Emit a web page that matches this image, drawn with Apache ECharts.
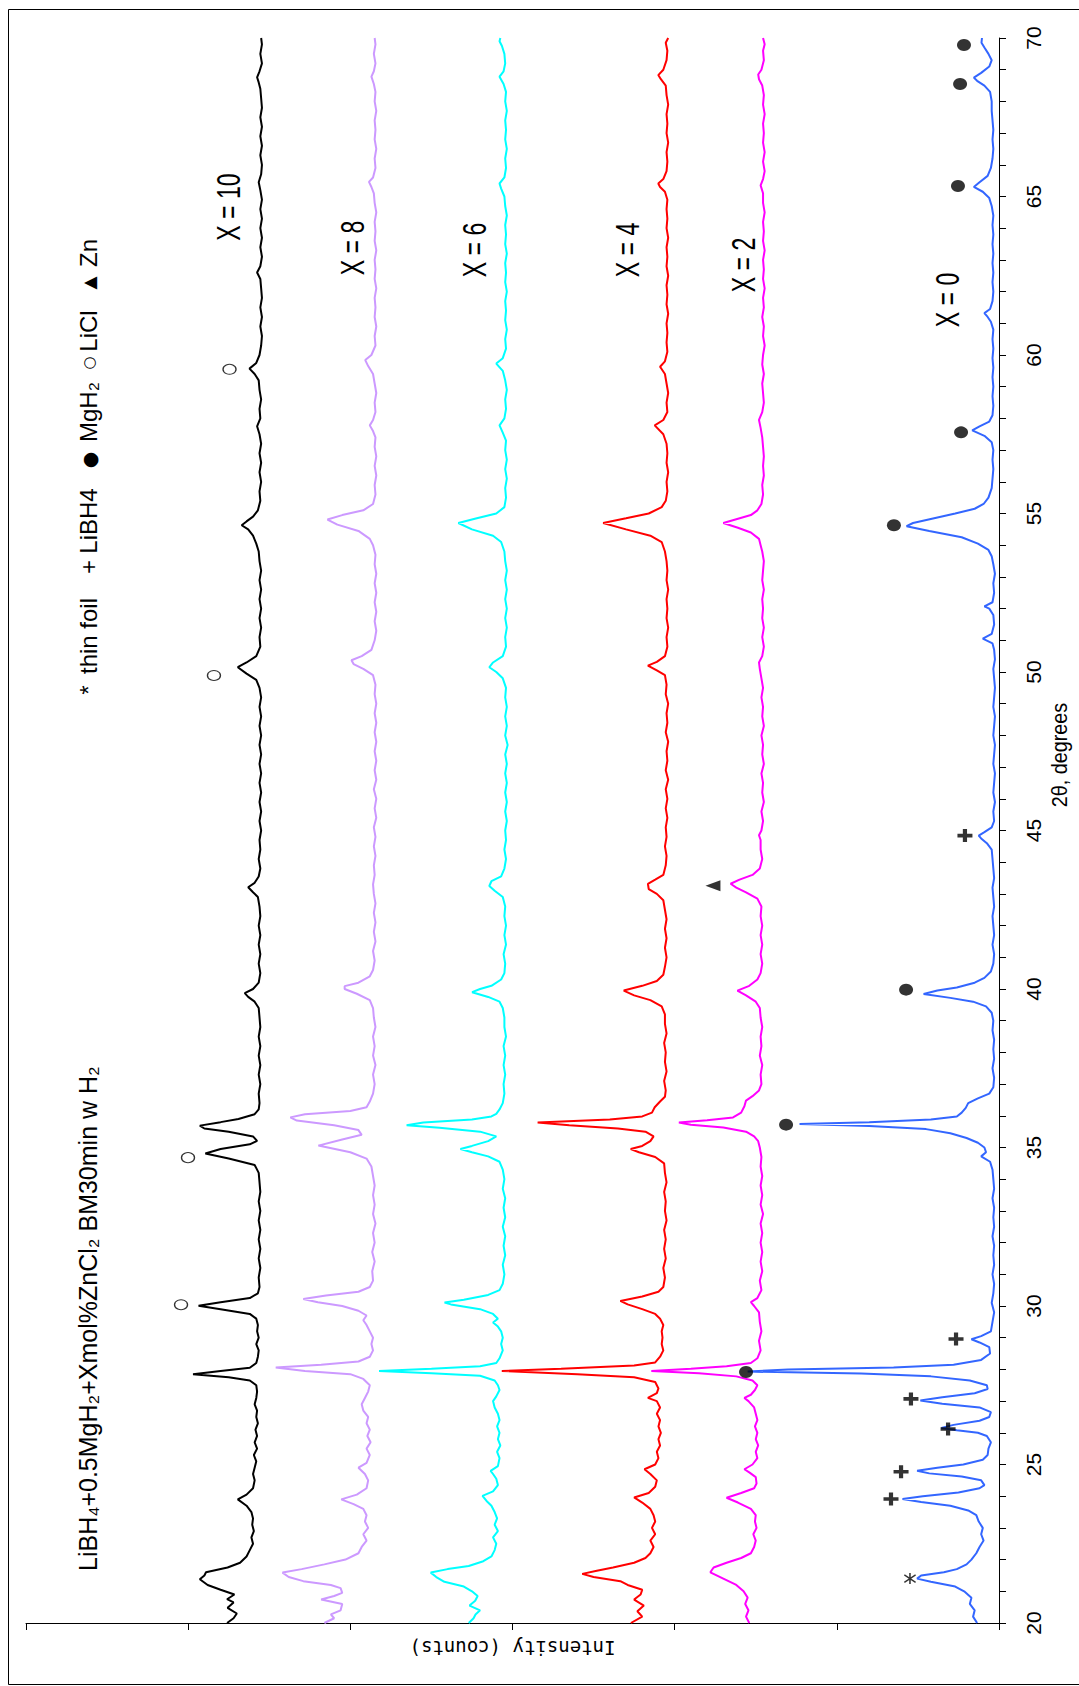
<!DOCTYPE html>
<html><head><meta charset="utf-8">
<script src="https://cdn.jsdelivr.net/npm/echarts@6/dist/echarts.min.js"></script>
<style>html,body{margin:0;padding:0;background:#fff}#c{width:1079px;height:1686px}</style>
</head><body><div id="c"></div>
<script>
// ---- data: [2theta (deg), intensity (counts, stacked offsets as plotted)] ----
const seriesNames = ['X = 0', 'X = 2', 'X = 4', 'X = 6', 'X = 8', 'X = 10'];
const thetaTicks = [20, 25, 30, 35, 40, 45, 50, 55, 60, 65, 70];

const s0 = [[20.0,135],[20.2,160],[20.4,150],[20.6,180],[20.8,170],[21.0,215],[21.15,270],[21.3,420],[21.4,505],[21.5,480],[21.6,340],[21.7,260],[21.85,200],[22.0,170],[22.2,140],[22.4,120],[22.6,95],[22.8,110],[23.0,100],[23.2,125],[23.4,140],[23.55,190],[23.7,300],[23.82,480],[23.91,595],[24.0,470],[24.12,250],[24.25,120],[24.35,90],[24.5,110],[24.62,230],[24.72,430],[24.8,505],[24.9,380],[25.0,220],[25.15,100],[25.3,70],[25.5,65],[25.7,50],[25.9,75],[26.0,130],[26.08,260],[26.15,355],[26.25,280],[26.38,120],[26.5,60],[26.65,50],[26.8,120],[26.92,350],[27.02,485],[27.12,350],[27.25,150],[27.38,70],[27.5,75],[27.65,180],[27.78,420],[27.87,850],[27.93,1550],[28.0,1300],[28.06,650],[28.15,280],[28.3,110],[28.5,55],[28.7,60],[28.85,120],[28.95,170],[29.05,110],[29.2,50],[29.5,40],[29.8,30],[30.1,45],[30.4,35],[30.7,30],[31.0,40],[31.3,30],[31.6,35],[31.9,30],[32.2,40],[32.5,30],[32.8,35],[33.1,30],[33.4,40],[33.7,30],[34.0,35],[34.3,40],[34.55,55],[34.72,110],[34.85,80],[35.0,90],[35.15,130],[35.3,200],[35.45,300],[35.58,450],[35.68,800],[35.74,1230],[35.8,800],[35.88,420],[35.98,260],[36.1,230],[36.25,205],[36.4,190],[36.55,130],[36.7,60],[36.9,35],[37.2,30],[37.5,40],[37.8,30],[38.1,35],[38.4,30],[38.7,40],[39.0,35],[39.25,45],[39.45,80],[39.6,160],[39.72,300],[39.84,465],[39.95,380],[40.05,260],[40.2,150],[40.35,90],[40.55,50],[40.8,35],[41.1,30],[41.4,40],[41.7,30],[42.0,35],[42.3,40],[42.6,30],[42.9,35],[43.2,40],[43.5,30],[43.8,35],[44.1,40],[44.4,45],[44.6,75],[44.75,110],[44.84,125],[44.95,90],[45.1,45],[45.3,30],[45.6,35],[45.9,25],[46.2,35],[46.5,30],[46.8,25],[47.1,35],[47.4,30],[47.7,25],[48.0,35],[48.3,30],[48.6,25],[48.9,35],[49.2,30],[49.5,25],[49.8,30],[50.1,35],[50.4,25],[50.7,30],[50.9,40],[51.05,100],[51.2,45],[51.5,30],[51.8,35],[52.0,60],[52.07,90],[52.2,40],[52.5,30],[52.8,35],[53.1,25],[53.4,35],[53.65,45],[53.85,65],[54.05,130],[54.25,230],[54.45,430],[54.6,570],[54.7,530],[54.85,400],[55.0,270],[55.15,150],[55.3,95],[55.5,65],[55.8,45],[56.1,40],[56.4,35],[56.7,40],[57.0,35],[57.25,45],[57.45,90],[57.62,165],[57.75,120],[57.9,60],[58.1,40],[58.4,35],[58.7,40],[59.0,35],[59.3,40],[59.6,35],[59.9,40],[60.2,35],[60.5,40],[60.8,35],[61.05,50],[61.2,70],[61.32,90],[61.45,55],[61.7,40],[62.0,35],[62.3,40],[62.6,35],[62.9,40],[63.2,35],[63.5,40],[63.8,35],[64.1,40],[64.4,35],[64.7,45],[64.95,60],[65.15,100],[65.3,155],[65.45,120],[65.65,70],[65.9,50],[66.2,40],[66.5,35],[66.8,40],[67.1,35],[67.4,40],[67.7,45],[68.0,45],[68.3,55],[68.5,90],[68.65,135],[68.75,155],[68.9,110],[69.1,60],[69.3,45],[69.5,65],[69.7,90],[69.85,108],[70.0,105]];

const s2 = [[20.0,1540],[20.2,1560],[20.4,1545],[20.6,1565],[20.8,1550],[21.0,1575],[21.2,1620],[21.4,1700],[21.6,1780],[21.75,1760],[21.9,1680],[22.05,1590],[22.2,1530],[22.4,1510],[22.6,1500],[22.8,1515],[23.0,1495],[23.2,1505],[23.4,1500],[23.6,1530],[23.8,1610],[23.95,1680],[24.1,1590],[24.25,1510],[24.4,1495],[24.6,1500],[24.75,1540],[24.85,1570],[25.0,1520],[25.2,1490],[25.4,1500],[25.6,1485],[25.8,1500],[26.0,1490],[26.2,1505],[26.4,1490],[26.6,1500],[26.8,1510],[27.0,1545],[27.1,1570],[27.2,1530],[27.35,1505],[27.5,1490],[27.65,1520],[27.78,1620],[27.88,1850],[27.95,2144],[28.02,1900],[28.1,1680],[28.2,1530],[28.35,1490],[28.6,1470],[28.9,1480],[29.2,1465],[29.5,1475],[29.8,1480],[30.0,1510],[30.12,1530],[30.25,1490],[30.5,1465],[30.8,1475],[31.1,1460],[31.4,1470],[31.7,1460],[32.0,1470],[32.3,1460],[32.6,1470],[32.9,1455],[33.2,1470],[33.5,1460],[33.8,1470],[34.1,1460],[34.4,1470],[34.7,1465],[35.0,1475],[35.2,1485],[35.35,1510],[35.5,1560],[35.63,1700],[35.72,1900],[35.79,1974],[35.86,1800],[35.95,1640],[36.1,1590],[36.3,1570],[36.48,1560],[36.62,1520],[36.8,1480],[37.0,1465],[37.3,1470],[37.6,1460],[37.9,1475],[38.2,1465],[38.5,1470],[38.8,1460],[39.1,1470],[39.4,1475],[39.6,1500],[39.8,1560],[39.95,1613],[40.1,1540],[40.3,1490],[40.5,1470],[40.8,1460],[41.1,1470],[41.4,1460],[41.7,1470],[42.0,1460],[42.3,1470],[42.6,1465],[42.85,1490],[43.05,1560],[43.2,1620],[43.32,1655],[43.45,1600],[43.6,1520],[43.8,1475],[44.1,1460],[44.4,1470],[44.7,1470],[44.85,1480],[45.0,1465],[45.3,1455],[45.6,1465],[45.9,1450],[46.2,1460],[46.5,1455],[46.8,1465],[47.1,1450],[47.4,1460],[47.7,1455],[48.0,1465],[48.3,1450],[48.6,1460],[48.9,1455],[49.2,1465],[49.5,1455],[49.8,1465],[50.1,1475],[50.3,1480],[50.5,1460],[50.8,1450],[51.1,1460],[51.4,1450],[51.7,1460],[52.0,1455],[52.3,1460],[52.6,1450],[52.9,1460],[53.2,1455],[53.5,1450],[53.8,1460],[54.0,1470],[54.2,1480],[54.4,1530],[54.55,1610],[54.7,1700],[54.82,1620],[54.95,1530],[55.1,1490],[55.3,1465],[55.6,1455],[55.9,1460],[56.2,1450],[56.5,1455],[56.8,1450],[57.1,1455],[57.4,1460],[57.7,1470],[57.95,1480],[58.2,1460],[58.5,1450],[58.8,1455],[59.1,1460],[59.4,1450],[59.7,1460],[60.0,1455],[60.3,1445],[60.6,1455],[60.9,1450],[61.2,1460],[61.5,1450],[61.8,1455],[62.1,1445],[62.4,1455],[62.7,1450],[63.0,1455],[63.3,1445],[63.6,1455],[63.9,1450],[64.2,1455],[64.5,1445],[64.8,1455],[65.1,1455],[65.35,1470],[65.55,1455],[65.8,1445],[66.1,1455],[66.4,1445],[66.7,1455],[67.0,1450],[67.3,1455],[67.6,1445],[67.9,1455],[68.2,1450],[68.5,1460],[68.7,1480],[68.85,1485],[69.0,1465],[69.3,1450],[69.6,1455],[69.8,1445],[70.0,1455]];

const s4 = [[20.0,2270],[20.2,2200],[20.37,2230],[20.55,2190],[20.74,2250],[20.9,2210],[21.05,2200],[21.2,2290],[21.32,2335],[21.45,2500],[21.55,2570],[21.65,2480],[21.75,2380],[21.9,2250],[22.05,2180],[22.2,2150],[22.4,2130],[22.6,2150],[22.8,2120],[23.0,2140],[23.2,2120],[23.4,2130],[23.6,2150],[23.8,2200],[23.96,2250],[24.1,2160],[24.3,2120],[24.5,2110],[24.7,2150],[24.85,2186],[25.0,2120],[25.2,2100],[25.4,2110],[25.6,2090],[25.8,2100],[26.0,2085],[26.2,2100],[26.4,2090],[26.6,2110],[26.8,2090],[27.0,2110],[27.1,2165],[27.25,2110],[27.4,2100],[27.6,2120],[27.75,2250],[27.85,2600],[27.95,3066],[28.02,2700],[28.12,2250],[28.22,2120],[28.4,2090],[28.6,2070],[28.8,2080],[29.0,2075],[29.2,2080],[29.4,2070],[29.6,2090],[29.75,2120],[29.9,2200],[30.05,2290],[30.16,2335],[30.3,2200],[30.45,2100],[30.6,2070],[30.9,2060],[31.2,2070],[31.5,2055],[31.8,2065],[32.1,2055],[32.4,2065],[32.7,2050],[33.0,2060],[33.3,2055],[33.6,2065],[33.9,2050],[34.2,2060],[34.5,2065],[34.7,2120],[34.85,2220],[34.95,2271],[35.05,2200],[35.2,2150],[35.35,2130],[35.5,2180],[35.6,2350],[35.7,2650],[35.79,2845],[35.88,2400],[35.98,2200],[36.1,2140],[36.27,2123],[36.45,2090],[36.6,2060],[36.8,2055],[37.1,2065],[37.4,2050],[37.7,2060],[38.0,2055],[38.3,2065],[38.6,2050],[38.9,2060],[39.2,2060],[39.45,2080],[39.65,2150],[39.8,2250],[39.95,2314],[40.1,2200],[40.25,2110],[40.45,2070],[40.7,2060],[41.0,2050],[41.3,2060],[41.6,2050],[41.9,2060],[42.2,2050],[42.5,2060],[42.8,2070],[43.0,2110],[43.15,2160],[43.32,2165],[43.45,2120],[43.6,2070],[43.9,2055],[44.2,2050],[44.5,2060],[44.8,2050],[45.1,2055],[45.4,2045],[45.7,2055],[46.0,2045],[46.3,2055],[46.6,2040],[46.9,2055],[47.2,2045],[47.5,2050],[47.8,2040],[48.1,2055],[48.4,2045],[48.7,2050],[49.0,2040],[49.3,2055],[49.6,2050],[49.9,2060],[50.05,2110],[50.2,2165],[50.32,2110],[50.5,2060],[50.8,2045],[51.1,2050],[51.4,2040],[51.7,2050],[52.0,2045],[52.3,2050],[52.6,2040],[52.9,2050],[53.2,2045],[53.5,2050],[53.8,2060],[54.1,2080],[54.3,2150],[54.5,2300],[54.7,2441],[54.85,2300],[55.0,2160],[55.2,2080],[55.4,2055],[55.7,2045],[56.0,2050],[56.3,2040],[56.6,2050],[56.9,2045],[57.2,2050],[57.5,2070],[57.78,2123],[57.95,2070],[58.2,2045],[58.5,2050],[58.8,2040],[59.1,2050],[59.4,2060],[59.63,2090],[59.8,2060],[60.1,2045],[60.4,2050],[60.7,2045],[61.0,2050],[61.3,2040],[61.6,2050],[61.9,2045],[62.2,2050],[62.5,2040],[62.8,2050],[63.1,2045],[63.4,2050],[63.7,2040],[64.0,2050],[64.3,2045],[64.6,2050],[64.9,2045],[65.15,2060],[65.3,2090],[65.41,2101],[65.55,2070],[65.8,2050],[66.1,2045],[66.4,2050],[66.7,2040],[67.0,2050],[67.3,2045],[67.6,2050],[67.9,2040],[68.2,2050],[68.5,2055],[68.7,2085],[68.83,2101],[69.0,2070],[69.3,2050],[69.6,2045],[69.85,2055],[70.0,2040]];

const s6 = [[20.0,3270],[20.15,3240],[20.27,3228],[20.4,3200],[20.55,3265],[20.7,3230],[20.85,3215],[21.0,3250],[21.15,3300],[21.3,3420],[21.45,3470],[21.59,3504],[21.7,3400],[21.8,3270],[21.95,3180],[22.1,3130],[22.3,3110],[22.5,3100],[22.7,3120],[22.9,3090],[23.1,3110],[23.3,3095],[23.5,3110],[23.7,3130],[23.85,3160],[24.01,3185],[24.15,3120],[24.35,3090],[24.55,3100],[24.7,3120],[24.8,3135],[24.95,3090],[25.2,3080],[25.4,3095],[25.6,3075],[25.8,3090],[26.0,3080],[26.2,3095],[26.4,3080],[26.6,3090],[26.8,3110],[27.0,3120],[27.15,3100],[27.35,3080],[27.5,3090],[27.65,3110],[27.8,3200],[27.88,3500],[27.95,3823],[28.02,3500],[28.1,3200],[28.2,3100],[28.35,3080],[28.6,3060],[28.8,3070],[29.0,3060],[29.2,3070],[29.35,3090],[29.48,3120],[29.6,3090],[29.75,3120],[29.9,3200],[30.05,3380],[30.11,3419],[30.2,3300],[30.35,3150],[30.5,3080],[30.7,3060],[31.0,3050],[31.3,3060],[31.6,3045],[31.9,3055],[32.2,3045],[32.5,3060],[32.8,3045],[33.1,3055],[33.4,3045],[33.7,3060],[34.0,3050],[34.3,3060],[34.55,3080],[34.72,3150],[34.85,3250],[34.95,3321],[35.05,3250],[35.2,3150],[35.35,3100],[35.5,3200],[35.62,3450],[35.7,3653],[35.79,3550],[35.88,3250],[35.98,3130],[36.06,3100],[36.2,3080],[36.4,3060],[36.7,3050],[37.0,3055],[37.3,3045],[37.6,3055],[37.9,3045],[38.2,3055],[38.5,3040],[38.8,3050],[39.1,3050],[39.4,3060],[39.6,3080],[39.75,3150],[39.9,3249],[40.0,3200],[40.1,3130],[40.3,3070],[40.5,3050],[40.8,3045],[41.1,3055],[41.4,3040],[41.7,3050],[42.0,3040],[42.3,3050],[42.6,3045],[42.9,3060],[43.1,3110],[43.25,3143],[43.4,3130],[43.55,3070],[43.8,3050],[44.1,3040],[44.4,3050],[44.7,3040],[45.0,3045],[45.3,3035],[45.6,3045],[45.9,3035],[46.2,3045],[46.5,3035],[46.8,3045],[47.1,3035],[47.4,3045],[47.7,3030],[48.0,3045],[48.3,3035],[48.6,3045],[48.9,3035],[49.2,3045],[49.5,3040],[49.8,3060],[50.0,3100],[50.15,3143],[50.3,3120],[50.5,3060],[50.8,3040],[51.1,3045],[51.4,3035],[51.7,3045],[52.0,3035],[52.3,3045],[52.6,3035],[52.9,3045],[53.2,3035],[53.5,3045],[53.8,3050],[54.1,3070],[54.3,3120],[54.5,3250],[54.7,3334],[54.85,3220],[55.0,3100],[55.2,3050],[55.5,3040],[55.8,3045],[56.1,3035],[56.4,3045],[56.7,3035],[57.0,3045],[57.3,3040],[57.55,3060],[57.78,3080],[58.0,3050],[58.3,3040],[58.6,3045],[58.9,3035],[59.2,3045],[59.5,3060],[59.73,3100],[59.9,3060],[60.2,3040],[60.5,3045],[60.8,3035],[61.1,3045],[61.4,3040],[61.7,3045],[62.0,3035],[62.3,3045],[62.6,3040],[62.9,3045],[63.2,3035],[63.5,3045],[63.8,3040],[64.1,3045],[64.4,3035],[64.7,3045],[65.0,3050],[65.25,3070],[65.41,3080],[65.6,3050],[65.9,3040],[66.2,3045],[66.5,3035],[66.8,3045],[67.1,3040],[67.4,3045],[67.7,3035],[68.0,3045],[68.3,3040],[68.55,3055],[68.78,3080],[68.95,3055],[69.2,3045],[69.5,3050],[69.75,3065],[69.9,3080],[70.0,3075]];

const s8 = [[20.0,4160],[20.15,4100],[20.27,4120],[20.4,4060],[20.6,4050],[20.74,4180],[20.85,4100],[20.95,4050],[21.1,4060],[21.2,4120],[21.32,4290],[21.45,4380],[21.59,4418],[21.7,4300],[21.85,4160],[22.0,4030],[22.2,3950],[22.4,3930],[22.6,3900],[22.8,3920],[23.0,3890],[23.2,3910],[23.4,3900],[23.6,3920],[23.75,3980],[23.9,4056],[24.05,3960],[24.25,3900],[24.5,3890],[24.7,3910],[24.9,3950],[25.05,3900],[25.3,3880],[25.5,3900],[25.7,3875],[25.9,3895],[26.1,3880],[26.3,3900],[26.5,3890],[26.7,3920],[26.9,3930],[27.1,3910],[27.3,3890],[27.5,3880],[27.7,3920],[27.85,4000],[27.95,4280],[28.06,4460],[28.15,4180],[28.25,3950],[28.4,3880],[28.6,3860],[28.8,3870],[29.0,3860],[29.2,3880],[29.4,3900],[29.55,3920],[29.7,3900],[29.85,3950],[30.0,4050],[30.12,4200],[30.22,4290],[30.33,4150],[30.45,3950],[30.6,3880],[30.8,3860],[31.1,3865],[31.4,3850],[31.7,3865],[32.0,3850],[32.3,3860],[32.6,3845],[32.9,3860],[33.2,3850],[33.5,3860],[33.8,3850],[34.1,3860],[34.4,3870],[34.65,3900],[34.85,4000],[35.06,4197],[35.25,4050],[35.4,3930],[35.55,3950],[35.7,4100],[35.85,4330],[35.95,4370],[36.05,4280],[36.15,4000],[36.27,3900],[36.45,3880],[36.7,3860],[37.0,3850],[37.3,3860],[37.6,3845],[37.9,3860],[38.2,3850],[38.5,3860],[38.8,3845],[39.1,3855],[39.4,3860],[39.65,3880],[39.85,3960],[40.0,4035],[40.09,4035],[40.2,3950],[40.4,3880],[40.6,3860],[40.9,3850],[41.2,3860],[41.5,3845],[41.8,3855],[42.1,3845],[42.4,3855],[42.7,3845],[43.0,3855],[43.3,3860],[43.6,3850],[43.9,3855],[44.2,3845],[44.5,3855],[44.8,3845],[45.1,3855],[45.4,3840],[45.7,3850],[46.0,3840],[46.3,3855],[46.6,3840],[46.9,3850],[47.2,3840],[47.5,3850],[47.8,3840],[48.1,3850],[48.4,3840],[48.7,3850],[49.0,3840],[49.3,3850],[49.6,3845],[49.9,3860],[50.1,3920],[50.25,3980],[50.37,3993],[50.5,3930],[50.7,3870],[51.0,3850],[51.3,3840],[51.6,3850],[51.9,3840],[52.2,3850],[52.5,3840],[52.8,3850],[53.1,3840],[53.4,3850],[53.7,3845],[54.0,3860],[54.2,3880],[54.45,3950],[54.65,4080],[54.81,4141],[54.95,4050],[55.1,3920],[55.3,3860],[55.6,3845],[55.9,3850],[56.2,3840],[56.5,3850],[56.8,3840],[57.1,3850],[57.4,3845],[57.6,3860],[57.78,3880],[57.95,3860],[58.2,3845],[58.5,3850],[58.8,3840],[59.1,3850],[59.4,3860],[59.65,3890],[59.84,3908],[60.0,3870],[60.3,3845],[60.6,3850],[60.9,3840],[61.2,3850],[61.5,3845],[61.8,3850],[62.1,3840],[62.4,3850],[62.7,3845],[63.0,3850],[63.3,3840],[63.6,3850],[63.9,3845],[64.2,3850],[64.5,3840],[64.8,3850],[65.1,3855],[65.3,3870],[65.46,3885],[65.6,3860],[65.9,3845],[66.2,3850],[66.5,3840],[66.8,3850],[67.1,3845],[67.4,3850],[67.7,3840],[68.0,3850],[68.3,3845],[68.55,3855],[68.78,3870],[68.95,3855],[69.2,3845],[69.5,3855],[69.8,3845],[70.0,3850]];

const s10 = [[20.0,4760],[20.15,4720],[20.3,4700],[20.48,4757],[20.65,4720],[20.75,4760],[20.9,4715],[21.05,4800],[21.2,4880],[21.38,4928],[21.5,4900],[21.6,4890],[21.75,4757],[21.9,4680],[22.1,4640],[22.3,4620],[22.5,4600],[22.7,4610],[22.9,4595],[23.1,4605],[23.3,4600],[23.5,4610],[23.7,4640],[23.9,4694],[24.05,4640],[24.25,4600],[24.5,4590],[24.7,4600],[24.9,4590],[25.1,4580],[25.3,4595],[25.5,4575],[25.7,4590],[25.9,4575],[26.1,4585],[26.3,4570],[26.5,4580],[26.7,4575],[26.9,4590],[27.1,4580],[27.3,4575],[27.5,4580],[27.65,4620],[27.75,4750],[27.85,4970],[27.95,4800],[28.05,4620],[28.2,4580],[28.4,4570],[28.6,4565],[28.8,4580],[29.0,4565],[29.2,4575],[29.4,4570],[29.6,4580],[29.75,4620],[29.9,4800],[30.01,4936],[30.12,4800],[30.25,4620],[30.4,4570],[30.6,4560],[30.9,4565],[31.2,4555],[31.5,4565],[31.8,4555],[32.1,4565],[32.4,4555],[32.7,4565],[33.0,4555],[33.3,4565],[33.6,4555],[33.9,4560],[34.2,4565],[34.45,4590],[34.65,4750],[34.81,4894],[34.95,4800],[35.1,4620],[35.21,4575],[35.35,4600],[35.5,4750],[35.6,4900],[35.69,4928],[35.8,4800],[35.9,4690],[36.05,4590],[36.2,4565],[36.4,4560],[36.7,4565],[37.0,4555],[37.3,4565],[37.6,4555],[37.9,4565],[38.2,4555],[38.5,4565],[38.8,4555],[39.1,4560],[39.4,4565],[39.6,4590],[39.75,4630],[39.87,4651],[40.0,4600],[40.2,4565],[40.5,4555],[40.8,4565],[41.1,4555],[41.4,4565],[41.7,4555],[42.0,4565],[42.3,4555],[42.6,4560],[42.9,4570],[43.05,4600],[43.21,4630],[43.35,4590],[43.55,4565],[43.8,4555],[44.1,4565],[44.4,4555],[44.7,4560],[45.0,4550],[45.3,4560],[45.6,4550],[45.9,4560],[46.2,4550],[46.5,4560],[46.8,4550],[47.1,4560],[47.4,4550],[47.7,4560],[48.0,4550],[48.3,4560],[48.6,4550],[48.9,4560],[49.2,4550],[49.5,4560],[49.75,4580],[49.95,4640],[50.15,4694],[50.3,4640],[50.5,4580],[50.8,4555],[51.1,4560],[51.4,4550],[51.7,4560],[52.0,4550],[52.3,4560],[52.6,4550],[52.9,4560],[53.2,4550],[53.5,4560],[53.8,4565],[54.05,4580],[54.3,4600],[54.5,4630],[54.63,4670],[54.75,4640],[54.9,4600],[55.1,4570],[55.4,4555],[55.7,4560],[56.0,4550],[56.3,4560],[56.6,4550],[56.9,4560],[57.2,4550],[57.5,4560],[57.75,4575],[58.0,4555],[58.3,4560],[58.6,4550],[58.9,4560],[59.2,4565],[59.4,4590],[59.57,4622],[59.75,4580],[60.0,4560],[60.3,4550],[60.6,4545],[60.9,4555],[61.2,4545],[61.5,4555],[61.8,4545],[62.1,4550],[62.4,4555],[62.6,4575],[62.8,4555],[63.1,4545],[63.4,4555],[63.7,4545],[64.0,4555],[64.3,4545],[64.6,4555],[64.9,4545],[65.2,4555],[65.45,4565],[65.7,4550],[66.0,4545],[66.3,4555],[66.6,4545],[66.9,4555],[67.2,4545],[67.5,4555],[67.8,4545],[68.1,4550],[68.4,4555],[68.6,4565],[68.76,4575],[68.95,4560],[69.2,4545],[69.5,4555],[69.8,4545],[70.0,4550]];

// phase markers: [2theta, intensity]
const mgh2Marks = [[69.78,216],[68.55,240],[65.33,253],[57.56,234],[54.63,648],[39.98,573],[35.72,1313],[27.92,1560]];
const liclMarks = [[59.55,4745],[49.89,4841],[34.68,5001],[30.04,5044]];
const znMarks = [[43.26,1764]];
const libh4Marks = [[44.84,210],[28.96,265],[27.07,543],[26.12,314],[24.77,604],[23.91,666]];
const foilMarks = [[21.4,549]];

// ---- chart ----
const colors = ['#3366ff', '#ff00ff', '#ff0000', '#00ffff', '#cc99ff', '#000000'];
const traces = [s0, s2, s4, s6, s8, s10];
const FONT = "'Liberation Sans', Arial, Helvetica, sans-serif";
const NARROW = "'Liberation Sans Narrow', 'Arial Narrow', 'Liberation Sans', Arial, sans-serif";
const flip = arr => arr.map(p => [p[1], p[0]]);

const series = traces.map((d, i) => ({
  name: seriesNames[i], type: 'line', data: flip(d), showSymbol: false, symbol: 'none',
  lineStyle: { color: colors[i], width: 2 }, itemStyle: { color: colors[i] },
  silent: true, z: 2, animation: false
}));
const plusPath = 'path://M3.6,0H6.4V3.6H10V6.4H6.4V10H3.6V6.4H0V3.6H3.6Z';
const starPath = 'path://M4.4,0H5.6V10H4.4Z M0.3,2.1L0.9,1.1L9.7,7.9L9.1,8.9Z M0.3,7.9L9.1,1.1L9.7,2.1L0.9,8.9Z';
series.push(
  { type: 'scatter', data: flip(mgh2Marks), symbol: 'circle', symbolSize: [14, 12], itemStyle: { color: '#000' }, z: 5, silent: true },
  { type: 'scatter', data: flip(liclMarks), symbol: 'circle', symbolSize: [13, 10], itemStyle: { color: '#fff', borderColor: '#000', borderWidth: 1.2 }, z: 5, silent: true },
  { type: 'scatter', data: flip(znMarks), symbol: 'triangle', symbolRotate: 90, symbolSize: [11, 15], itemStyle: { color: '#000' }, z: 5, silent: true },
  { type: 'scatter', data: flip(libh4Marks), symbol: plusPath, symbolSize: [15, 13], itemStyle: { color: '#000' }, z: 5, silent: true },
  { type: 'scatter', data: flip(foilMarks), symbol: starPath, symbolSize: [12, 11], itemStyle: { color: '#000' }, z: 5, silent: true }
);

function vtext(x, y, text, size, align, scale, family) {
  return { type: 'text', x: x, y: y, rotation: Math.PI / 2, scaleX: scale || 1, silent: true, z: 10,
    style: { text: text, fill: '#000', font: size + 'px ' + (family || FONT), align: align, verticalAlign: 'middle',
             textAlign: align, textVerticalAlign: 'middle' } };
}

const labelPos = [[947, 300], [743, 265], [627, 250], [474, 250], [352, 248], [228, 207]];
const graphics = [
  { type: 'rect', shape: { x: 8.5, y: 9.5, width: 1100, height: 1675 }, style: { fill: 'none', stroke: '#000', lineWidth: 1 }, silent: true, z: 0 },
  vtext(88, 1571, 'LiBH₄+0.5MgH₂+Xmol%ZnCl₂ BM30min w H₂', 25, 'left', 1),
  vtext(88, 690, '*', 24, 'center'),
  vtext(88, 636, 'thin foil', 24, 'center'),
  vtext(88, 567, '+', 24, 'center'),
  vtext(88, 521, 'LiBH4', 24, 'center'),
  vtext(89, 460, '●', 19, 'center', 1, "'DejaVu Sans', sans-serif"),
  vtext(88, 412, 'MgH₂', 24, 'center'),
  vtext(89, 363, '○', 15, 'center', 1, "'DejaVu Sans', sans-serif"),
  vtext(88, 331, 'LiCl', 24, 'center'),
  vtext(89, 283, '▲', 17, 'center', 1, "'DejaVu Sans', sans-serif"),
  vtext(88, 253, 'Zn', 24, 'center'),
  vtext(1059, 755, '2θ, degrees', 22, 'center', 0.9)
];
labelPos.forEach((p, i) => graphics.push(vtext(p[0], p[1], seriesNames[i], 33, 'center', 0.7)));

const option = {
  animation: false,
  backgroundColor: '#ffffff',
  grid: { left: 26, right: 80, top: 38, bottom: 63, outerBoundsMode: 'none', containLabel: false },
  xAxis: {
    type: 'value', min: 0, max: 6000, interval: 1000, inverse: true, position: 'bottom',
    name: 'Intensity (counts)', nameLocation: 'middle', nameRotate: 180, nameGap: 15,
    nameTextStyle: { fontFamily: "'DejaVu Sans Mono', 'Liberation Mono', monospace", fontSize: 19, color: '#000' },
    axisLine: { onZero: false, lineStyle: { color: '#000', width: 1 } },
    axisTick: { show: true, inside: false, length: 7, lineStyle: { color: '#000' } },
    axisLabel: { show: false }, splitLine: { show: false }
  },
  yAxis: {
    type: 'value', min: 20, max: 70, interval: 5, position: 'right',
    axisLine: { onZero: false, lineStyle: { color: '#000', width: 1 } },
    axisTick: { show: true, inside: false, length: 7, lineStyle: { color: '#000' } },
    minorTick: { show: true, splitNumber: 5, length: 7, lineStyle: { color: '#000' } },
    axisLabel: { rotate: 90, margin: 24, fontSize: 21, fontFamily: NARROW, color: '#000',
      formatter: v => (thetaTicks.indexOf(v) >= 0 ? String(v) : '') },
    splitLine: { show: false }, minorSplitLine: { show: false }
  },
  graphic: graphics,
  series: series
};
const chart = echarts.init(document.getElementById('c'), null, { renderer: 'svg', width: 1079, height: 1686 });
chart.setOption(option);
</script>
</body></html>
